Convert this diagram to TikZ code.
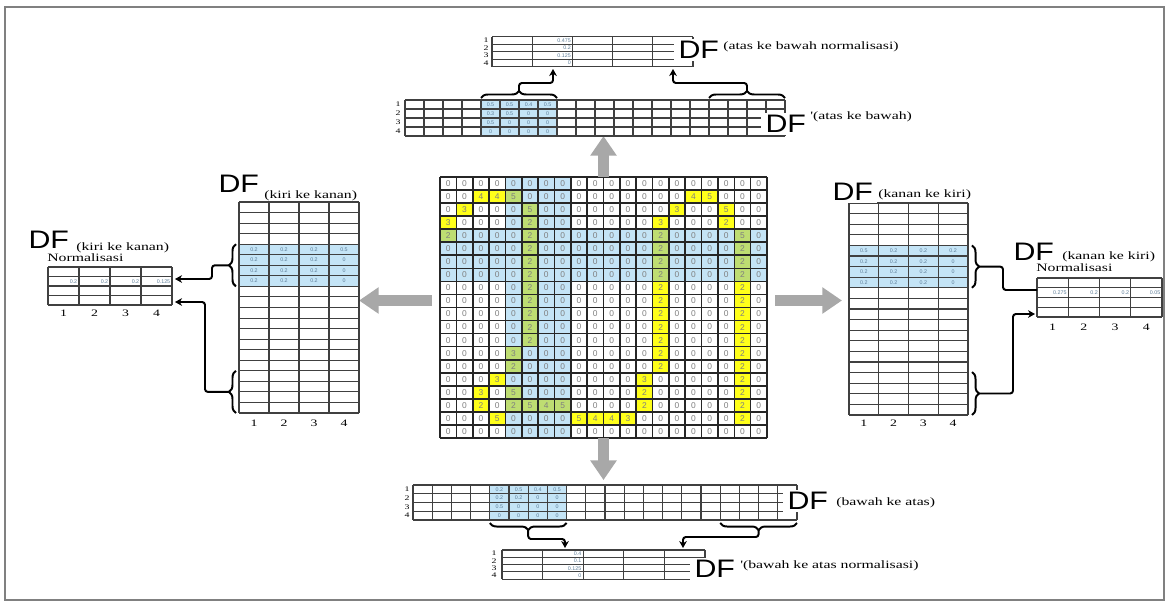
\documentclass[tikz,border=0pt]{standalone}
\usepackage{fontspec}
\usepackage{tikz}
\usetikzlibrary{arrows.meta,calc,decorations.pathreplacing}
\newfontfamily\dffont[FakeStretch=1.2]{Liberation Sans}
\newfontfamily\notefont[FakeStretch=1.4]{Liberation Serif}
\newfontfamily\cellfont{Liberation Sans}
\definecolor{cellblue}{HTML}{C4E4F6}
\definecolor{cellyellow}{HTML}{FFFF1A}
\definecolor{cellgreen}{HTML}{BEDD72}
\definecolor{flowgray}{HTML}{A8A8A8}
\definecolor{valtext}{HTML}{5D7D98}
\tikzset{
  frame/.style={draw=black!50, line width=1.3pt},
  area/.style 2 args={inner sep=0pt, outer sep=0pt, minimum width=#1*0.025cm, minimum height=#2*0.025cm, anchor=north west},
  gridline/.style={draw=black!85, line width=1.15pt},
  tline/.style={draw=black!75, line width=0.75pt},
  zero/.style={font=\cellfont\fontsize{6}{6}\selectfont, text=black!50, inner sep=0pt},
  val/.style={font=\cellfont\fontsize{3.8}{3.8}\selectfont, text=valtext, inner sep=0pt},
  rowno/.style={font=\notefont\fontsize{5}{5}\selectfont, inner sep=0pt},
  colno/.style={font=\notefont\fontsize{7}{7}\selectfont, inner sep=0pt},
  dfname/.style={font=\dffont\fontsize{18}{18}\selectfont, fill=white, anchor=west, inner xsep=3pt, inner ysep=1.5pt},
  note/.style={font=\notefont\fontsize{8}{9}\selectfont, anchor=west, inner sep=0pt},
  flow/.style={draw=flowgray, line width=7.5pt, -{Triangle[length=14pt,width=18pt]}},
  brc/.style={decorate, decoration={brace, amplitude=5pt}, line width=1.4pt},
  wire/.style={line width=1.4pt, line join=round, rounded corners=2pt},
  link/.style={wire, -{Stealth[length=5pt,width=5.5pt]}}
}
\newcommand{\dfgrid}[7][tline]{%
  \foreach \i in {0,...,#4}
    \draw[#1] ({#2+\i*#6},#3) -- ++(0,{#5*#7});
  \foreach \j in {0,...,#5}
    \draw[#1] (#2,{#3+\j*#7}) -- ++({#4*#6},0);
}

\begin{document}
\begin{tikzpicture}[x=0.025cm,y=-0.025cm]
\useasboundingbox (0,0) rectangle (1169,606);
\draw[frame] (5,7) rectangle (1164,600);

\node[area={327}{261}] (grid) at (440,177) {};
\node[area={380}{36}] (dfTop) at (405,100) {};
\node[area={201}{30.4}] (dfTopN) at (492,36.5) {};
\node[area={384}{35}] (dfBot) at (413,485) {};
\node[area={203}{29.2}] (dfBotN) at (502,550) {};
\node[area={120}{211}] (dfLeft) at (239,202) {};
\node[area={124}{38}] (dfLeftN) at (48,267) {};
\node[area={119}{212}] (dfRight) at (849,203) {};
\node[area={125}{39}] (dfRightN) at (1037,278) {};

% image matrix
\foreach \rowvals [count=\r] in {
  {0,0,0,0,0,0,0,0,0,0,0,0,0,0,0,0,0,0,0,0},
  {0,0,4,4,5,0,0,0,0,0,0,0,0,0,0,4,5,0,0,0},
  {0,3,0,0,0,5,0,0,0,0,0,0,0,0,3,0,0,5,0,0},
  {3,0,0,0,0,2,0,0,0,0,0,0,0,3,0,0,0,2,0,0},
  {2,0,0,0,0,2,0,0,0,0,0,0,0,2,0,0,0,0,5,0},
  {0,0,0,0,0,2,0,0,0,0,0,0,0,2,0,0,0,0,2,0},
  {0,0,0,0,0,2,0,0,0,0,0,0,0,2,0,0,0,0,2,0},
  {0,0,0,0,0,2,0,0,0,0,0,0,0,2,0,0,0,0,2,0},
  {0,0,0,0,0,2,0,0,0,0,0,0,0,2,0,0,0,0,2,0},
  {0,0,0,0,0,2,0,0,0,0,0,0,0,2,0,0,0,0,2,0},
  {0,0,0,0,0,2,0,0,0,0,0,0,0,2,0,0,0,0,2,0},
  {0,0,0,0,0,2,0,0,0,0,0,0,0,2,0,0,0,0,2,0},
  {0,0,0,0,0,2,0,0,0,0,0,0,0,2,0,0,0,0,2,0},
  {0,0,0,0,3,0,0,0,0,0,0,0,0,2,0,0,0,0,2,0},
  {0,0,0,0,2,0,0,0,0,0,0,0,0,2,0,0,0,0,2,0},
  {0,0,0,3,0,0,0,0,0,0,0,0,3,0,0,0,0,0,2,0},
  {0,0,3,0,5,0,0,0,0,0,0,0,2,0,0,0,0,0,2,0},
  {0,0,2,0,2,5,4,5,0,0,0,0,2,0,0,0,0,0,2,0},
  {0,0,0,5,0,0,0,0,5,4,4,3,0,0,0,0,0,0,2,0},
  {0,0,0,0,0,0,0,0,0,0,0,0,0,0,0,0,0,0,0,0}}{
  \foreach \v [count=\c] in \rowvals {
    \pgfmathtruncatemacro{\kind}{or(and(\c>4,\c<9),and(\r>4,\r<9))+2*(\v>0)}
    \ifcase\kind\def\cc{white}\or\def\cc{cellblue}\or\def\cc{cellyellow}\or\def\cc{cellgreen}\fi
    \fill[\cc] ({440+(\c-1)*16.35},{177+(\r-1)*13.05}) rectangle ++(16.35,13.05);
    \node[zero] (g\r-\c) at ({440+(\c-0.5)*16.35},{177+(\r-0.5)*13.05}) {\v};
  }
}
\dfgrid[gridline]{440}{177}{20}{20}{16.35}{13.05}

\coordinate (flowL) at ([shift={(-8,-7)}]grid.west);
\coordinate (flowR) at ([shift={(8,-7)}]grid.east);
\draw[flow] (grid.north) -- (grid.north |- dfTop.south);
\draw[flow, shorten >=3.5pt] (grid.south) -- (grid.south |- dfBot.north);
\draw[flow] (flowL) -- (flowL -| dfLeft.east);
\draw[flow, shorten >=5pt] (flowR) -- (flowR -| dfRight.west);

% atas ke bawah
\fill[cellblue] (481,100) rectangle (557,136);
\foreach \vals [count=\r] in {{0.5,0.5,0.4,0.5},{0.3,0.5,0,0},{0.5,0,0,0},{0,0,0,0}}
  \foreach \v [count=\c] in \vals
    \node[val] (t\r-\c) at ({481+(\c-0.5)*19},{100+(\r-0.5)*9}) {\v};
\dfgrid{405}{100}{20}{4}{19}{9}
\foreach \r in {1,...,4}
  \node[rowno] (tr\r) at (398,{100+(\r-0.5)*9}) {\r};
\node[dfname] (dfTopLbl) at (761,124) {DF};
\node[note] (dfTopTxt) at (810,117) {'(atas ke bawah)};

\dfgrid{492}{36.5}{5}{4}{40.2}{7.6}
\foreach \v [count=\r] in {0.475,0.2,0.125,0}
  \node[val, anchor=east] (tnv\r) at (571,{36.5+(\r-0.5)*7.6}) {\v};
\foreach \r in {1,...,4}
  \node[rowno] (tnr\r) at (486,{36.5+(\r-0.5)*7.6}) {\r};
\node[dfname] (dfTopNLbl) at (674,50) {DF};
\node[note] (dfTopNTxt) at (723,47) {(atas ke bawah normalisasi)};

% bawah ke atas
\fill[cellblue] (489.8,485) rectangle (566.6,520);
\foreach \vals [count=\r] in {{0.2,0.5,0.4,0.5},{0.2,0.2,0,0},{0.5,0,0,0},{0,0,0,0}}
  \foreach \v [count=\c] in \vals
    \node[val] (b\r-\c) at ({489.8+(\c-0.5)*19.2},{485+(\r-0.5)*8.75}) {\v};
\dfgrid{413}{485}{20}{4}{19.2}{8.75}
\foreach \r in {1,...,4}
  \node[rowno] (br\r) at (407,{485+(\r-0.5)*8.75}) {\r};
\node[dfname] (dfBotLbl) at (783,501) {DF};
\node[note] (dfBotTxt) at (836,503) {(bawah ke atas)};

\dfgrid{502}{550}{5}{4}{40.6}{7.3}
\foreach \v [count=\r] in {0.4,0.1,0.125,0}
  \node[val, anchor=east] (bnv\r) at (581.5,{550+(\r-0.5)*7.3}) {\v};
\foreach \r in {1,...,4}
  \node[rowno] (bnr\r) at (494,{550+(\r-0.5)*7.3}) {\r};
\node[dfname] (dfBotNLbl) at (690,569) {DF};
\node[note] (dfBotNTxt) at (740,566) {'(bawah ke atas normalisasi)};

% kiri ke kanan
\fill[cellblue] (239,244.2) rectangle (359,286.4);
\foreach \vals [count=\r] in {{0.2,0.2,0.2,0.5},{0.2,0.2,0.2,0},{0.2,0.2,0.2,0},{0.2,0.2,0.2,0}}
  \foreach \v [count=\c] in \vals
    \node[val] (l\r-\c) at ({239+(\c-0.5)*30},{202+(\r+3.5)*10.55}) {\v};
\dfgrid{239}{202}{4}{20}{30}{10.55}
\foreach \c in {1,...,4}
  \node[colno] (lc\c) at ({239+(\c-0.5)*30},423) {\c};
\node[dfname] (dfLeftLbl) at (214,184) {DF};
\node[note] (dfLeftTxt) at (264,196) {(kiri ke kanan)};

\dfgrid{48}{267}{4}{4}{31}{9.5}
\foreach \v [count=\c] in {0.2,0.2,0.2,0.125}
  \node[val, anchor=east] (lnv\c) at ({48+\c*31-1.5},281.25) {\v};
\foreach \c in {1,...,4}
  \node[colno] (lnc\c) at ({48+(\c-0.5)*31},313) {\c};
\node[dfname] (dfLeftNLbl) at (24,240) {DF};
\node[note] (dfLeftNTxt) at (76,248) {(kiri ke kanan)};
\node[note] (dfLeftNorm) at (47,258) {Normalisasi};

% kanan ke kiri
\fill[cellblue] (849,245.4) rectangle (968,287.8);
\foreach \vals [count=\r] in {{0.5,0.2,0.2,0.2},{0.2,0.2,0.2,0},{0.2,0.2,0.2,0},{0.2,0.2,0.2,0}}
  \foreach \v [count=\c] in \vals
    \node[val] (r\r-\c) at ({849+(\c-0.5)*29.75},{203+(\r+3.5)*10.6}) {\v};
\dfgrid{849}{203}{4}{20}{29.75}{10.6}
\foreach \c in {1,...,4}
  \node[colno] (rc\c) at ({849+(\c-0.5)*29.75},423) {\c};
\node[dfname] (dfRightLbl) at (828,192) {DF};
\node[note] (dfRightTxt) at (878,195) {(kanan ke kiri)};

\dfgrid{1037}{278}{4}{4}{31.25}{9.75}
\foreach \v [count=\c] in {0.275,0.2,0.2,0.05}
  \node[val, anchor=east] (rnv\c) at ({1037+\c*31.25-1.5},292.6) {\v};
\foreach \c in {1,...,4}
  \node[colno] (rnc\c) at ({1037+(\c-0.5)*31.25},327) {\c};
\node[dfname] (dfRightNLbl) at (1009,252) {DF};
\node[note] (dfRightNTxt) at (1062,257) {(kanan ke kiri)};
\node[note] (dfRightNorm) at (1036,268) {Normalisasi};

% braces and links
\draw[brc] (481,98) -- (557,98);
\draw[brc] (709,98) -- (785,98);
\draw[brc] (566.6,523) -- (489.8,523);
\draw[brc] (797,523) -- (720.2,523);
\draw[brc] (236,286.4) -- (236,244.2);
\draw[brc] (236,413) -- (236,370.8);
\draw[brc] (972,245.4) -- (972,287.8);
\draw[brc] (972,372) -- (972,415);

\coordinate (tlTip) at (519,91);
\coordinate (trTip) at (747,91);
\coordinate (blTip) at (528.2,530);
\coordinate (brTip) at (758.6,530);
\coordinate (ltTip) at (229,265.3);
\coordinate (lbTip) at (229,391.9);
\coordinate (rtTip) at (979,266.6);
\coordinate (rbTip) at (979,393.5);
\coordinate (tlEnd) at (553,69);
\coordinate (trEnd) at (673,69);
\coordinate (blEnd) at (565,548);
\coordinate (brEnd) at (683,548);
\coordinate (ltEnd) at (175,279);
\coordinate (lbEnd) at (175,302);
\coordinate (rtEnd) at (1037,290);
\coordinate (rbEnd) at (1035,314);

\draw[link] (tlTip) -- ++(0,-8) -| (tlEnd);
\draw[link] (trTip) -- ++(0,-8) -| (trEnd);
\draw[link] (blTip) -- ++(0,9) -| (blEnd);
\draw[link] (brTip) -- ++(0,7) -| (brEnd);
\draw[link] (ltTip) -- ++(-17,0) |- (ltEnd);
\draw[link] (lbTip) -- ++(-24,0) |- (lbEnd);
\draw[wire] (rtTip) -- ++(24,0) |- (rtEnd);
\draw[link] (rbTip) -- ++(34,0) |- (rbEnd);
\end{tikzpicture}
\end{document}
